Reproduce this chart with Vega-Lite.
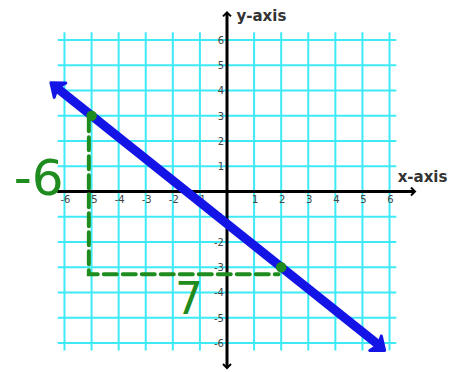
{
  "$schema": "https://vega.github.io/schema/vega-lite/v6.json",
  "width": 454,
  "height": 372,
  "autosize": {"type": "fit", "contains": "padding"},
  "padding": 0,
  "background": "white",
  "config": {"view": {"stroke": null}},
  "datasets": {
    "vgrid": [
      {"x": -6, "x2": -6, "y": -6.3, "y2": 6.3},
      {"x": -5, "x2": -5, "y": -6.3, "y2": 6.3},
      {"x": -4, "x2": -4, "y": -6.3, "y2": 6.3},
      {"x": -3, "x2": -3, "y": -6.3, "y2": 6.3},
      {"x": -2, "x2": -2, "y": -6.3, "y2": 6.3},
      {"x": -1, "x2": -1, "y": -6.3, "y2": 6.3},
      {"x": 1, "x2": 1, "y": -6.3, "y2": 6.3},
      {"x": 2, "x2": 2, "y": -6.3, "y2": 6.3},
      {"x": 3, "x2": 3, "y": -6.3, "y2": 6.3},
      {"x": 4, "x2": 4, "y": -6.3, "y2": 6.3},
      {"x": 5, "x2": 5, "y": -6.3, "y2": 6.3},
      {"x": 6, "x2": 6, "y": -6.3, "y2": 6.3}
    ],
    "hgrid": [
      {"x": -6.25, "x2": 6.25, "y": -6, "y2": -6},
      {"x": -6.25, "x2": 6.25, "y": -5, "y2": -5},
      {"x": -6.25, "x2": 6.25, "y": -4, "y2": -4},
      {"x": -6.25, "x2": 6.25, "y": -3, "y2": -3},
      {"x": -6.25, "x2": 6.25, "y": -2, "y2": -2},
      {"x": -6.25, "x2": 6.25, "y": -1, "y2": -1},
      {"x": -6.25, "x2": 6.25, "y": 1, "y2": 1},
      {"x": -6.25, "x2": 6.25, "y": 2, "y2": 2},
      {"x": -6.25, "x2": 6.25, "y": 3, "y2": 3},
      {"x": -6.25, "x2": 6.25, "y": 4, "y2": 4},
      {"x": -6.25, "x2": 6.25, "y": 5, "y2": 5},
      {"x": -6.25, "x2": 6.25, "y": 6, "y2": 6}
    ],
    "axes": [
      {"x": -6.27, "x2": 6.9, "y": 0, "y2": 0},
      {"x": 0, "x2": 0, "y": -6.95, "y2": 7.05}
    ],
    "axisArrows": [
      {"x": 6.94, "y": 0, "angle": 0},
      {"x": 0, "y": 7.09, "angle": 270},
      {"x": 0, "y": -6.99, "angle": 90}
    ],
    "xticks": [
      {"x": -6, "y": 0, "label": "-6"},
      {"x": -5, "y": 0, "label": "-5"},
      {"x": -4, "y": 0, "label": "-4"},
      {"x": -3, "y": 0, "label": "-3"},
      {"x": -2, "y": 0, "label": "-2"},
      {"x": -1, "y": 0, "label": "-1"},
      {"x": 1, "y": 0, "label": "1"},
      {"x": 2, "y": 0, "label": "2"},
      {"x": 3, "y": 0, "label": "3"},
      {"x": 4, "y": 0, "label": "4"},
      {"x": 5, "y": 0, "label": "5"},
      {"x": 6, "y": 0, "label": "6"}
    ],
    "yticks": [
      {"x": 0, "y": -6, "label": "-6"},
      {"x": 0, "y": -5, "label": "-5"},
      {"x": 0, "y": -4, "label": "-4"},
      {"x": 0, "y": -3, "label": "-3"},
      {"x": 0, "y": -2, "label": "-2"},
      {"x": 0, "y": -1, "label": "-1"},
      {"x": 0, "y": 1, "label": "1"},
      {"x": 0, "y": 2, "label": "2"},
      {"x": 0, "y": 3, "label": "3"},
      {"x": 0, "y": 4, "label": "4"},
      {"x": 0, "y": 5, "label": "5"},
      {"x": 0, "y": 6, "label": "6"}
    ],
    "axisTitles": [
      {"x": 0.35, "y": 6.95, "label": "y-axis"},
      {"x": 6.3, "y": 0.57, "label": "x-axis"}
    ],
    "dashed": [
      {"order": 1, "x": -5.1, "y": 2.9},
      {"order": 2, "x": -5.1, "y": -3.28},
      {"order": 3, "x": 1.9, "y": -3.28}
    ],
    "blueLine": [
      {"order": 1, "x": -6.25, "y": 4.08},
      {"order": 2, "x": 5.6, "y": -6.08}
    ],
    "blueArrows": [
      {"x": -6.5, "y": 4.3, "angle": 218.8},
      {"x": 5.82, "y": -6.3, "angle": 38.8}
    ],
    "points": [
      {"x": -5, "y": 3},
      {"x": 2, "y": -3}
    ],
    "notes": [
      {"x": -6.95, "y": 0.45, "label": "-6", "size": 50},
      {"x": -1.4, "y": -4.35, "label": "7", "size": 44}
    ]
  },
  "encoding": {
    "x": {"field": "x", "type": "quantitative", "scale": {"domain": [-8.38, 8.38], "nice": false, "zero": false}, "axis": null},
    "y": {"field": "y", "type": "quantitative", "scale": {"domain": [-7.07, 7.58], "nice": false, "zero": false}, "axis": null}
  },
  "layer": [
    {
      "data": {"name": "vgrid"},
      "mark": {"type": "rule", "color": "#3FEAF7", "strokeWidth": 2},
      "encoding": {"x2": {"field": "x2"}, "y2": {"field": "y2"}}
    },
    {
      "data": {"name": "hgrid"},
      "mark": {"type": "rule", "color": "#3FEAF7", "strokeWidth": 2},
      "encoding": {"x2": {"field": "x2"}, "y2": {"field": "y2"}}
    },
    {
      "data": {"name": "axes"},
      "mark": {"type": "rule", "color": "#000000", "strokeWidth": 3},
      "encoding": {"x2": {"field": "x2"}, "y2": {"field": "y2"}}
    },
    {
      "data": {"name": "axisArrows"},
      "mark": {"type": "point", "shape": "M-1,-1L0,0L-1,1", "filled": false, "stroke": "#000000", "strokeWidth": 2, "size": 64, "opacity": 1},
      "encoding": {"angle": {"field": "angle", "type": "quantitative", "scale": null}}
    },
    {
      "data": {"name": "xticks"},
      "mark": {"type": "text", "fontSize": 10, "font": "DejaVu Sans", "color": "#444444", "dx": 1, "dy": 9, "align": "center", "baseline": "middle"},
      "encoding": {"text": {"field": "label"}}
    },
    {
      "data": {"name": "yticks"},
      "mark": {"type": "text", "fontSize": 10, "font": "DejaVu Sans", "color": "#444444", "dx": -3, "dy": 1, "align": "right", "baseline": "middle"},
      "encoding": {"text": {"field": "label"}}
    },
    {
      "data": {"name": "axisTitles"},
      "mark": {"type": "text", "fontSize": 15, "font": "DejaVu Sans", "fontWeight": "bold", "color": "#333333", "align": "left", "baseline": "middle"},
      "encoding": {"text": {"field": "label"}}
    },
    {
      "data": {"name": "dashed"},
      "mark": {"type": "line", "color": "#1E8C1E", "strokeWidth": 4, "strokeDash": [13, 6], "strokeCap": "round"},
      "encoding": {"order": {"field": "order"}}
    },
    {
      "data": {"name": "blueLine"},
      "mark": {"type": "line", "color": "#1414E6", "strokeWidth": 9},
      "encoding": {"order": {"field": "order"}}
    },
    {
      "data": {"name": "blueArrows"},
      "mark": {"type": "point", "shape": "M0,0L-1.2,-0.95L-0.85,0L-1.2,0.95Z", "filled": true, "color": "#1414E6", "stroke": "#1414E6", "strokeWidth": 3, "strokeJoin": "round", "size": 380, "opacity": 1},
      "encoding": {"angle": {"field": "angle", "type": "quantitative", "scale": null}}
    },
    {
      "data": {"name": "points"},
      "mark": {"type": "point", "shape": "circle", "filled": true, "color": "#1E8C1E", "size": 110, "opacity": 1}
    },
    {
      "data": {"name": "notes"},
      "mark": {"type": "text", "font": "DejaVu Sans", "color": "#1E8C1E", "align": "center", "baseline": "middle"},
      "encoding": {"text": {"field": "label"}, "size": {"field": "size", "type": "quantitative", "scale": null}}
    }
  ]
}
